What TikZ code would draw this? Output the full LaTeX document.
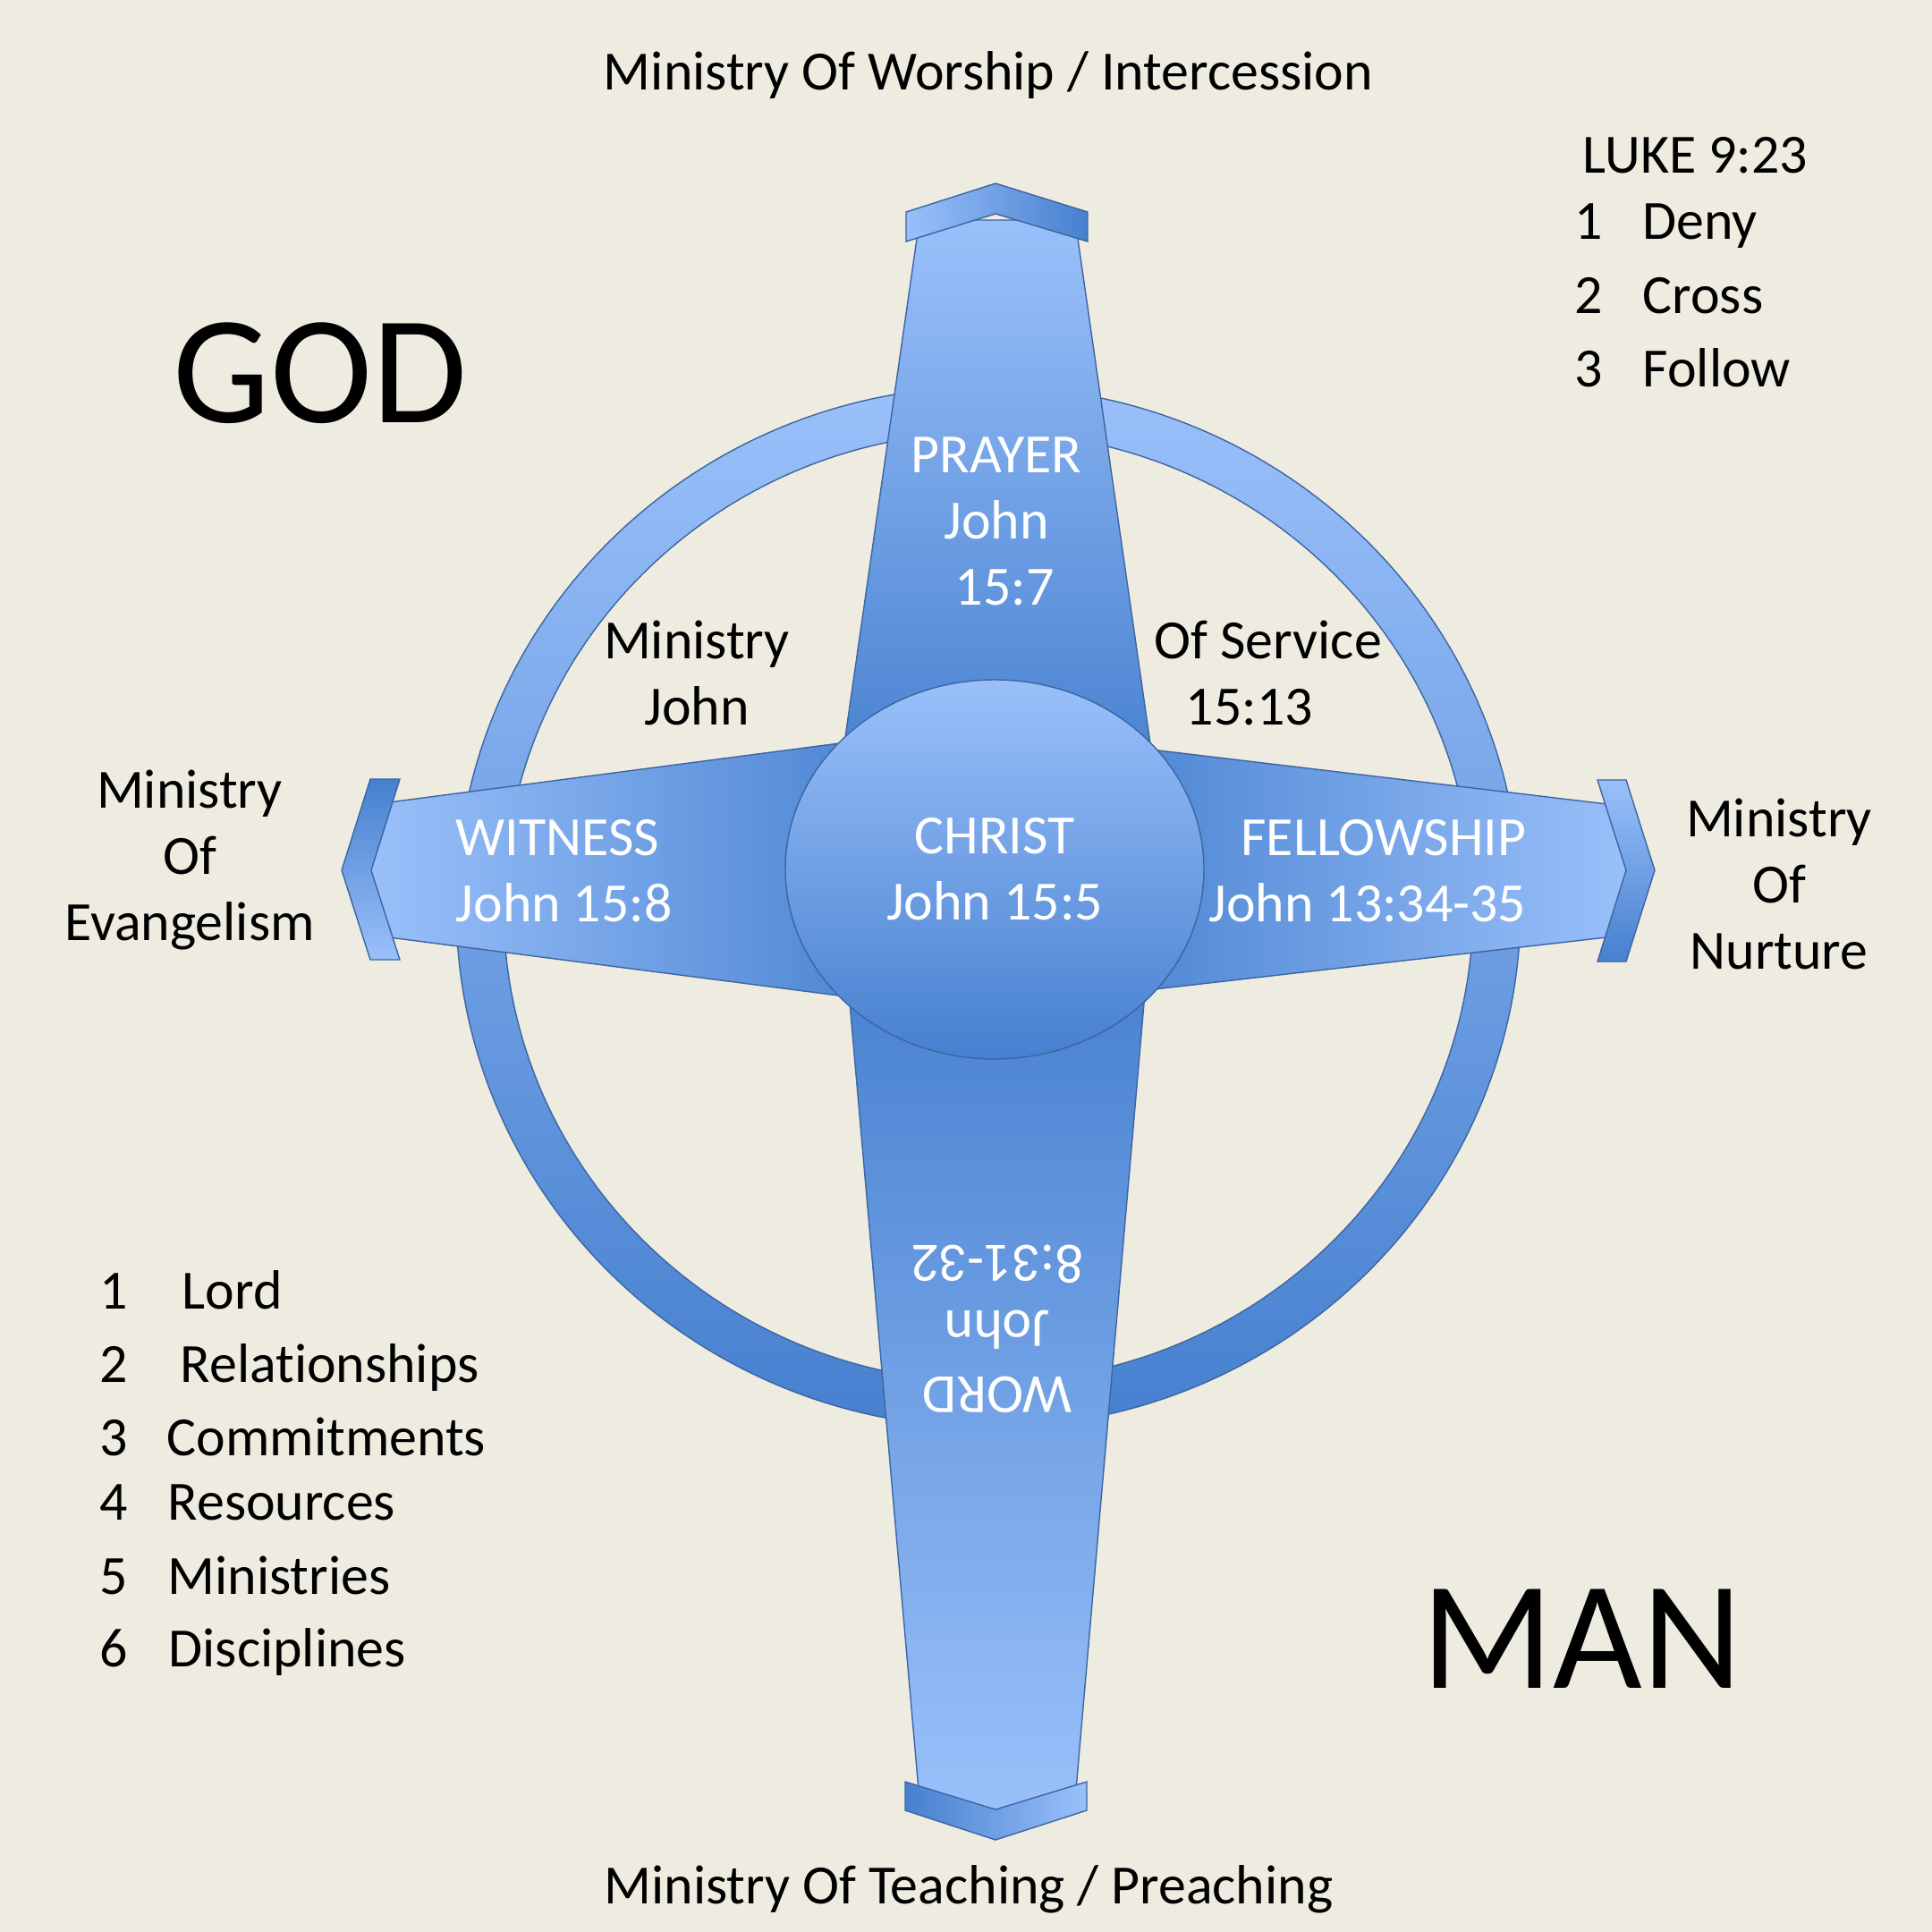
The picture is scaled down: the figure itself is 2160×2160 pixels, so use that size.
\documentclass[tikz,border=0pt]{standalone}
\usepackage{fontspec}
\setmainfont{Carlito}[Ligatures=NoCommon]
\usetikzlibrary{shapes.geometric}
\begin{document}
\begin{tikzpicture}[x=0.1mm,y=-0.1mm,
  lbl/.style={font=\fontsize{17.6}{21}\selectfont,inner sep=0pt},
  wlbl/.style={lbl,text=white},
  big/.style={font=\fontsize{49}{59}\selectfont,inner sep=0pt},
  rim/.style={draw=lineblue,line width=0.4pt}]
 \definecolor{paper}{HTML}{EEECE1}
 \definecolor{lightblue}{HTML}{9AC0FA}
 \definecolor{darkblue}{HTML}{4680CF}
 \definecolor{lineblue}{HTML}{3D65A0}
 \fill [paper] (0,0) rectangle (2160,2160);
 \useasboundingbox (0,0) rectangle (2160,2160);
 \path [rim,even odd rule,top color=lightblue,bottom color=darkblue] (1105,1014) ellipse [x radius=595,y radius=582] (1105,1014) ellipse [x radius=542,y radius=531];
 \path [rim,top color=lightblue,bottom color=darkblue] (937,880) -- (1028,246) -- (1202,246) -- (1293,880) -- cycle;
 \path [rim,top color=darkblue,bottom color=lightblue] (945,1064) -- (1029,2024) -- (1201,2024) -- (1284,1064) -- cycle;
 \path [rim,left color=lightblue,right color=darkblue] (412,900) -- (1030,819) -- (1030,1125) -- (412,1045) -- cycle;
 \path [rim,left color=darkblue,right color=lightblue] (1195,827) -- (1822,902) -- (1822,1045) -- (1195,1117) -- cycle;
 \path [rim,left color=lightblue,right color=darkblue] (1013,237) -- (1113,205) -- (1216,237) -- (1216,270) -- (1113,239) -- (1013,270) -- cycle;
 \path [rim,left color=darkblue,right color=lightblue] (1012,1992) -- (1113,2023) -- (1215,1992) -- (1215,2024) -- (1113,2057) -- (1012,2024) -- cycle;
 \path [rim,top color=darkblue,bottom color=lightblue] (414,871) -- (447,871) -- (415,973) -- (447,1073) -- (414,1073) -- (382,973) -- cycle;
 \path [rim,top color=lightblue,bottom color=darkblue] (1786,872) -- (1818,872) -- (1850,973) -- (1818,1075) -- (1786,1075) -- (1818,973) -- cycle;
 \node [wlbl,ellipse,rim,top color=lightblue,bottom color=darkblue,minimum width=46.8mm,minimum height=42.4mm,align=center] (christ) at (1112,972) {CHRIST\\John 15:5};
 \node [wlbl,align=center,anchor=base] (prayer) at (1114,676) {PRAYER\\John\\\hspace*{1.8mm}15:7};
 \node [wlbl,align=left,anchor=base west] (witness) at (509,1030) {WITNESS\\John 15:8};
 \node [wlbl,align=right,anchor=base east] (fellowship) at (1707,1030) {FELLOWSHIP\\John 13:34-35};
 \node [wlbl,align=center,anchor=base,rotate=180] (word) at (1115,1392) {WORD\\John\\8:31-32};
 \node [lbl,anchor=base] (worship) at (1105,100) {Ministry Of Worship / Intercession};
 \node [lbl,anchor=base] (teaching) at (1083,2128) {Ministry Of Teaching / Preaching};
 \node [lbl,align=center,anchor=base] (evangelism) at (212,1051) {Ministry\\Of\\Evangelism};
 \node [lbl,align=center,anchor=base] (nurture) at (1989,1083) {Ministry\\Of\\Nurture};
 \node [lbl,align=center,anchor=base] (ministry) at (779,810) {Ministry\\John};
 \node [lbl,align=left,anchor=base west] (service) at (1290,810) {Of Service\\\hspace*{3.5mm}15:13};
 \node [big,anchor=base west] (god) at (193,472) {GOD};
 \node [big,anchor=base west] (man) at (1589,1887) {MAN};
 \node [lbl,anchor=base west] (luke) at (1769,193) {LUKE 9:23};
 \foreach \n/\w/\y in {1/Deny/267,2/Cross/350,3/Follow/432} {
   \node [lbl,anchor=base west] (lukenum\n) at (1760,\y) {\n};
   \node [lbl,anchor=base west] (luke\n) at (1836,\y) {\w};
 }
 \foreach \n/\w/\x/\y in {1/Lord/203/1463,2/Relationships/201/1545,3/Commitments/186/1627,4/Resources/187/1699,5/Ministries/187/1782,6/Disciplines/188/1863} {
   \node [lbl,anchor=base west] (num\n) at (111,\y) {\n};
   \node [lbl,anchor=base west] (item\n) at (\x,\y) {\w};
 }
\end{tikzpicture}
\end{document}
